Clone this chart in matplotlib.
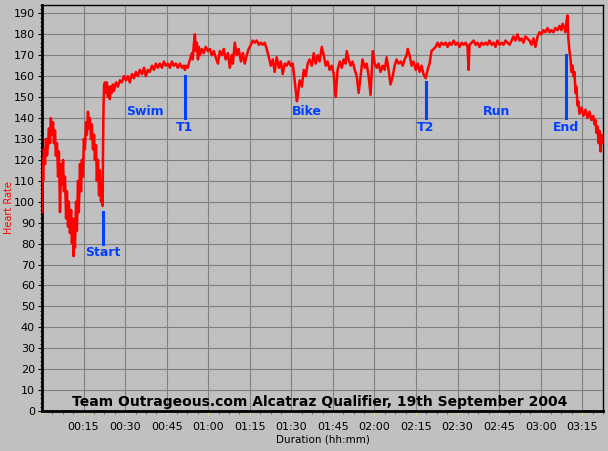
import matplotlib
matplotlib.use("Agg")
import matplotlib.pyplot as plt
from matplotlib.ticker import MultipleLocator, FuncFormatter

# heart rate trace (minutes, bpm)
minutes = [
    0.0, 0.2, 0.4, 0.7, 1.1, 1.4, 1.8, 2.2, 2.5, 2.9, 3.2, 3.6, 4.0, 4.3, 4.7, 5.0,
    5.4, 5.8, 6.1, 6.5, 6.9, 7.2, 7.6, 7.9, 8.3, 8.7, 9.0, 9.4, 9.7, 10.1, 10.5, 10.8,
    11.2, 11.4, 11.5, 11.9, 12.3, 12.6, 13.0, 13.3, 13.7, 14.1, 14.4, 14.8, 15.1, 15.5,
    15.9, 16.2, 16.6, 16.9, 17.3, 17.7, 18.0, 18.4, 18.8, 19.1, 19.5, 19.8, 20.2, 20.6,
    20.9, 21.3, 21.6, 21.9, 22.0, 22.2, 22.4, 22.7, 23.1, 23.4, 23.8, 24.2, 24.5, 24.9,
    25.2, 25.6, 26.0, 26.7, 27.4, 28.1, 28.8, 29.6, 30.3, 31.0, 31.7, 32.5, 33.2, 33.9,
    34.6, 35.3, 36.1, 36.8, 37.5, 38.2, 38.9, 39.7, 40.4, 41.1, 41.8, 42.5, 43.3, 44.0,
    44.7, 45.4, 46.2, 46.9, 47.6, 48.3, 49.0, 49.8, 50.5, 51.2, 51.6, 51.9, 52.6, 53.4,
    54.1, 54.4, 54.8, 55.2, 55.5, 55.9, 56.3, 56.6, 57.0, 57.7, 58.4, 59.1, 59.9, 60.6,
    61.3, 62.0, 62.7, 63.5, 64.2, 64.9, 65.6, 66.3, 67.1, 67.8, 68.5, 68.9, 69.6, 70.3,
    71.0, 71.8, 72.5, 73.2, 73.9, 74.6, 75.4, 76.1, 76.8, 77.5, 78.3, 79.0, 79.7, 80.4,
    81.1, 81.9, 82.6, 83.3, 84.0, 84.7, 85.5, 86.2, 86.9, 87.6, 88.3, 89.1, 89.8, 90.5,
    91.2, 92.0, 92.3, 93.0, 93.8, 94.5, 95.2, 95.9, 96.6, 97.4, 98.1, 98.8, 99.5, 100.2,
    101.0, 101.7, 102.4, 103.1, 103.8, 104.6, 105.3, 106.0, 106.7, 107.5, 108.2, 108.9,
    109.6, 110.0, 110.7, 111.4, 112.1, 112.9, 113.6, 114.3, 115.0, 115.7, 116.5, 117.2,
    117.9, 118.6, 119.4, 120.1, 120.8, 121.5, 122.2, 123.0, 123.7, 124.4, 125.1, 125.8,
    126.6, 127.3, 128.0, 128.7, 129.5, 130.2, 130.9, 131.6, 132.0, 132.7, 133.4, 134.1,
    134.9, 135.6, 136.3, 137.0, 137.7, 138.5, 139.2, 139.9, 140.6, 141.4, 142.1, 142.8,
    143.5, 144.2, 145.0, 145.7, 146.4, 147.1, 147.8, 148.6, 149.3, 150.0, 150.7, 151.5,
    152.2, 152.9, 153.6, 154.0, 154.3, 155.1, 155.8, 156.5, 157.2, 157.9, 158.7, 159.4,
    160.1, 160.8, 161.5, 162.3, 163.0, 163.7, 164.4, 165.2, 165.9, 166.6, 167.3, 168.0,
    168.8, 169.5, 170.2, 170.9, 171.6, 172.4, 173.1, 173.8, 174.5, 175.2, 176.0, 176.7,
    177.4, 178.1, 178.9, 179.6, 180.3, 181.0, 181.7, 182.5, 183.2, 183.9, 184.6, 185.3,
    186.1, 186.8, 187.5, 187.9, 188.6, 188.9, 189.3, 189.7, 190.0, 190.4, 190.8, 191.1,
    191.5, 191.8, 192.2, 192.6, 192.9, 193.3, 193.6, 194.0, 194.7, 195.4, 196.2, 196.9,
    197.6, 198.3, 199.0, 199.4, 199.8, 200.1, 200.5, 200.9, 201.2, 201.6, 201.9, 202.3,
]
hr = [
    95, 120, 110, 125, 118, 130, 122, 128, 135, 128, 140, 132, 138, 128, 134, 122,
    128, 112, 124, 95, 118, 108, 120, 105, 112, 92, 105, 88, 100, 85, 96, 80,
    92, 74, 90, 78, 100, 86, 110, 95, 118, 105, 120, 112, 130, 125,
    138, 132, 143, 135, 140, 130, 137, 125, 132, 120, 127, 110, 120, 103,
    115, 100, 108, 98, 120, 145, 155, 157, 152, 157, 150, 155, 149, 155,
    152, 156, 153, 157, 155, 158, 157, 160, 158, 160, 157, 161, 159, 162,
    160, 163, 161, 164, 160, 163, 162, 165, 163, 166, 164, 166, 164, 167,
    165, 166, 164, 167, 165, 166, 164, 166, 164, 165, 163, 165, 164, 168,
    171, 168, 175, 180, 172, 176, 168, 174, 170, 173, 171, 174, 172, 173,
    170, 172, 169, 166, 172, 170, 173, 168, 171, 164, 170, 166, 176, 170,
    173, 167, 171, 166, 170, 173, 175, 177, 176, 177, 175, 176, 175, 176,
    173, 169, 165, 168, 162, 169, 164, 167, 161, 166, 165, 167, 165, 166,
    158, 148, 150, 158, 155, 163, 160, 166, 168, 165, 171, 166, 170, 167,
    174, 170, 165, 167, 163, 165, 161, 150, 163, 167, 164, 168,
    166, 172, 168, 165, 167, 163, 160, 152, 160, 168, 164, 166,
    160, 151, 172, 166, 164, 166, 162, 165, 163, 169, 163, 156,
    160, 165, 168, 166, 167, 165, 168, 170, 173, 170, 165, 167,
    163, 166, 162, 165, 161, 159, 163, 166, 172, 173, 174, 176,
    174, 176, 175, 176, 174, 176, 175, 177, 175, 176, 174, 176,
    175, 176, 174, 163, 175, 176, 177, 175, 176, 174, 176, 175,
    176, 175, 177, 175, 176, 174, 177, 175, 176, 175, 177, 176,
    175, 177, 179, 177, 180, 177, 178, 176, 179, 178, 177, 175,
    178, 174, 179, 181, 180, 182, 181, 183, 181, 182, 181, 183,
    182, 184, 182, 185, 183, 181, 186, 189, 178, 172, 168, 162,
    165, 160, 162, 152, 155, 146, 148, 142, 145, 141, 144, 140,
    143, 139, 141, 137, 139, 133, 136, 128, 134, 124, 132, 128,
]

# stage markers: (label, minute, line bottom, line top)
markers = [("Start", 22.0, 80, 95), ("T1", 51.6, 140, 160),
           ("T2", 138.5, 140, 157), ("End", 189.0, 140, 170)]
legs = [("Swim", 37.1), ("Bike", 95.6), ("Run", 164.0)]

title = "Team Outrageous.com Alcatraz Qualifier, 19th September 2004"

grey = "#c0c0c0"
blue = "#0040ff"

fig = plt.figure(figsize=(6.08, 4.51), dpi=100, facecolor=grey)
ax = fig.add_axes([42 / 608, 1 - 411 / 451, 561 / 608, 406 / 451], facecolor=grey)

ax.plot(minutes, hr, color="#ff0000", lw=1.8, zorder=3)

for name, m, lo, hi in markers:
    ax.plot([m, m], [lo, hi], color=blue, lw=2.2, zorder=4)
    ax.text(m, lo - 4.5, name, color=blue, fontsize=9, fontweight="bold",
            ha="center", va="center", zorder=5)
for name, m in legs:
    ax.text(m, 143, name, color=blue, fontsize=9, fontweight="bold",
            ha="center", va="center", zorder=5)

ax.text(100.2, 4.5, title, fontsize=10, fontweight="bold", ha="center",
        va="center", zorder=5)

ax.set_xlim(0, 202.5)
ax.set_ylim(0, 194)
ax.xaxis.set_major_locator(MultipleLocator(15))
ax.xaxis.set_minor_locator(MultipleLocator(3.75))
ax.yaxis.set_major_locator(MultipleLocator(10))
ax.yaxis.set_minor_locator(MultipleLocator(2))
ax.xaxis.set_major_formatter(FuncFormatter(
    lambda v, p: "" if v <= 0 else "%02d:%02d" % (int(v) // 60, int(v) % 60)))
ax.grid(True, which="major", color="#808080", lw=0.8, zorder=1)
ax.set_axisbelow(True)

ax.tick_params(axis="both", which="both", labelsize=8, colors="black")
ax.tick_params(axis="x", which="major", length=3, pad=5, color="#d8d8a0")
ax.tick_params(axis="x", which="minor", length=2, color="#606060")
ax.tick_params(axis="y", which="major", length=3, pad=2)
ax.tick_params(axis="y", which="minor", length=1.5)

for s in ["left", "bottom"]:
    ax.spines[s].set_linewidth(2)
for s in ["top", "right"]:
    ax.spines[s].set_linewidth(1)

ax.set_xlabel("Duration (hh:mm)", fontsize=7.5)
ax.xaxis.set_label_coords(0.5, -24 / 406)
ax.set_ylabel("Heart Rate", fontsize=7, color="#ff0000")
ax.yaxis.set_label_coords(-28 / 561, 0.5)

fig.savefig("out.png", dpi=100, facecolor=grey)
